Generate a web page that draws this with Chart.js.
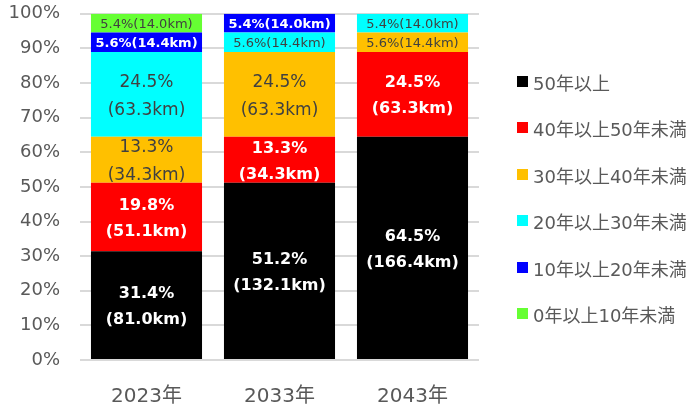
<!DOCTYPE html>
<html>
<head>
<meta charset="utf-8">
<script src="https://cdn.jsdelivr.net/npm/chart.js@4"></script>
<style>
  html, body { margin: 0; padding: 0; background: #fff; }
  #wrap { position: relative; width: 691px; height: 404px; overflow: hidden; }
  #c { position: absolute; left: 0; top: -17px; }
  #legend { position: absolute; left: 517px; top: 69px; font-family: "DejaVu Sans", "Noto Sans CJK JP", sans-serif; font-size: 18px; color: #595959; }
  #legend div { height: 46.4px; display: flex; align-items: flex-start; white-space: nowrap; }
  #legend span.box { display: inline-block; width: 11px; height: 11px; margin-right: 5px; margin-top: 7px; }
</style>
</head>
<body>
<div id="wrap">
  <canvas id="c" width="691" height="421"></canvas>
  <div id="legend"></div>
</div>
<script>
const FONT = '"DejaVu Sans", "Noto Sans CJK JP", sans-serif';

const years = ['2023年', '2033年', '2043年'];
const seriesNames = ['50年以上', '40年以上50年未満', '30年以上40年未満', '20年以上30年未満', '10年以上20年未満', '0年以上10年未満'];
const seriesColors = ['#000000', '#FF0000', '#FFC000', '#00FFFF', '#0000FF', '#66FF33'];

// percentages (bottom to top)
const pct50 = [31.4, 51.2, 64.5];
const pct40 = [19.8, 13.3, 24.5];
const pct30 = [13.3, 24.5, 5.6];
const pct20 = [24.5, 5.6, 5.4];
const pct10 = [5.6, 5.4, 0];
const pct0  = [5.4, 0, 0];

// lengths in km
const km50 = [81.0, 132.1, 166.4];
const km40 = [51.1, 34.3, 63.3];
const km30 = [34.3, 63.3, 14.4];
const km20 = [63.3, 14.4, 14.0];
const km10 = [14.4, 14.0, 0];
const km0  = [14.0, 0, 0];

const pctList = [pct50, pct40, pct30, pct20, pct10, pct0];
const kmList = [km50, km40, km30, km20, km10, km0];
// which series get white bold labels
const whiteLabel = [true, true, false, false, true, false];

const segLabels = {
    id: 'segLabels',
    afterDatasetsDraw(chart) {
        const ctx = chart.ctx;
        ctx.save();
        ctx.textAlign = 'center';
        ctx.textBaseline = 'middle';
        chart.data.datasets.forEach((ds, di) => {
            const meta = chart.getDatasetMeta(di);
            meta.data.forEach((bar, i) => {
                const v = ds.data[i];
                if (!v) return;
                const km = kmList[di][i];
                const cy = (bar.y + bar.base) / 2;
                const white = whiteLabel[di];
                ctx.fillStyle = white ? '#FFFFFF' : '#404040';
                if (v > 10) {
                    ctx.font = (white ? 'bold 16px ' : '17px ') + FONT;
                    const gap = white ? 13 : 14;
                    ctx.fillText(v.toFixed(1) + '%', bar.x, cy + 2 - gap);
                    ctx.fillText('(' + km.toFixed(1) + 'km)', bar.x, cy + 2 + gap);
                } else {
                    ctx.font = (white ? 'bold 13px ' : '13px ') + FONT;
                    ctx.fillText(v.toFixed(1) + '%(' + km.toFixed(1) + 'km)', bar.x, cy + 1);
                }
            });
        });
        ctx.restore();
    }
};

const datasets = seriesNames.map((name, i) => ({
    label: name,
    data: pctList[i],
    backgroundColor: seriesColors[i],
    borderWidth: 0,
    barPercentage: 0.835,
    categoryPercentage: 1.0
}));

new Chart(document.getElementById('c').getContext('2d'), {
    type: 'bar',
    data: { labels: years, datasets },
    plugins: [segLabels],
    options: {
        responsive: false,
        animation: false,
        layout: { padding: { top: 0, right: 212, left: 0, bottom: 0 } },
        plugins: { legend: { display: false }, tooltip: { enabled: false } },
        scales: {
            x: {
                stacked: true,
                grid: { display: false },
                border: { display: false },
                ticks: { color: '#595959', font: { family: FONT, size: 20 }, padding: 17 },
                afterFit(scale) { scale.height = 44; }
            },
            y: {
                stacked: true,
                min: 0, max: 100,
                grid: { color: '#D9D9D9', lineWidth: 2, drawTicks: false },
                border: { display: false },
                ticks: { stepSize: 10, color: '#595959', font: { family: FONT, size: 18 }, padding: 20, callback: v => v + '%' },
                afterFit(scale) { scale.width = 80; }
            }
        }
    }
});

const legendEl = document.getElementById('legend');
seriesNames.forEach((name, i) => {
    const row = document.createElement('div');
    const box = document.createElement('span');
    box.className = 'box';
    box.style.background = seriesColors[i];
    row.appendChild(box);
    row.appendChild(document.createTextNode(name));
    legendEl.appendChild(row);
});
</script>
</body>
</html>
